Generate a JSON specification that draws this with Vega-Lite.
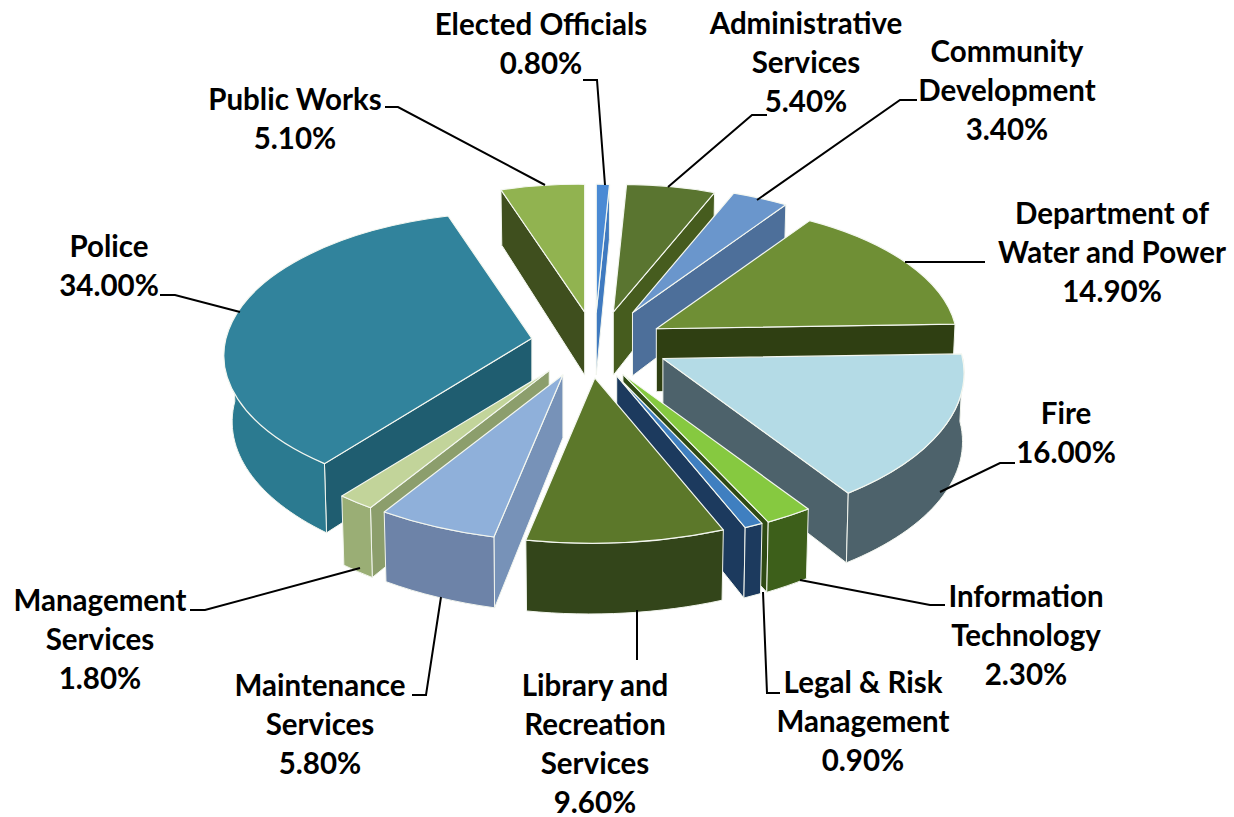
{
  "$schema": "https://vega.github.io/schema/vega-lite/v6.json",
  "autosize": {"type": "none"},
  "width": 1234,
  "height": 817,
  "padding": 0,
  "background": "#ffffff",
  "config": {"view": {"stroke": null}},
  "data": {"values": [
    {"seq": 1, "department": "Elected Officials", "lines": "Elected Officials", "share": 0.8},
    {"seq": 2, "department": "Administrative Services", "lines": "Administrative|Services", "share": 5.4},
    {"seq": 3, "department": "Community Development", "lines": "Community|Development", "share": 3.4},
    {"seq": 4, "department": "Department of Water and Power", "lines": "Department of|Water and Power", "share": 14.9},
    {"seq": 5, "department": "Fire", "lines": "Fire", "share": 16.0},
    {"seq": 6, "department": "Information Technology", "lines": "Information|Technology", "share": 2.3},
    {"seq": 7, "department": "Legal & Risk Management", "lines": "Legal & Risk|Management", "share": 0.9},
    {"seq": 8, "department": "Library and Recreation Services", "lines": "Library and|Recreation|Services", "share": 9.6},
    {"seq": 9, "department": "Maintenance Services", "lines": "Maintenance|Services", "share": 5.8},
    {"seq": 10, "department": "Management Services", "lines": "Management|Services", "share": 1.8},
    {"seq": 11, "department": "Police", "lines": "Police", "share": 34.0},
    {"seq": 12, "department": "Public Works", "lines": "Public Works", "share": 5.1}
  ]},
  "transform": [
    {"window": [{"op": "sum", "field": "share", "as": "cum"}], "sort": [{"field": "seq"}], "frame": [null, 0]},
    {"calculate": "(datum.cum - datum.share) / 100 * 2 * PI", "as": "a"},
    {"calculate": "datum.cum / 100 * 2 * PI", "as": "b"},
    {"calculate": "(datum.a + datum.b) / 2", "as": "m"},
    {"calculate": "597", "as": "pieX"},
    {"calculate": "345", "as": "pieY"},
    {"calculate": "datum.pieX - 5 + 68 * sin(datum.m + 3 * PI / 180) + ({'Elected Officials':-1,'Administrative Services':3,'Community Development':5,'Department of Water and Power':3,'Fire':12,'Police':6}[datum.department] || 0)", "as": "ax"},
    {"calculate": "datum.pieY - 33 * cos(datum.m + 3 * PI / 180) + ({'Administrative Services':-1,'Community Development':-4,'Department of Water and Power':-2,'Fire':-3,'Police':1}[datum.department] || 0)", "as": "ay"},
    {"calculate": "-cos(datum.m + 3 * PI / 180)", "as": "depthOrder"},

    {"calculate": "300 * (1 - 0.12 * cos(datum.a)) * sin(datum.a)", "as": "x1"},
    {"calculate": "-147 * (1 - 0.13 * cos(datum.a)) * cos(datum.a)", "as": "y1"},
    {"calculate": "300 * (1 - 0.12 * cos(datum.b)) * sin(datum.b)", "as": "x2"},
    {"calculate": "-147 * (1 - 0.13 * cos(datum.b)) * cos(datum.b)", "as": "y2"},
    {"calculate": "63 - 8 * cos(datum.a)", "as": "d1"},
    {"calculate": "63 - 8 * cos(datum.b)", "as": "d2"},
    {"calculate": "300 * (1 - 0.12 * cos(datum.m))", "as": "rxTop"},
    {"calculate": "147 * (1 - 0.13 * cos(datum.m))", "as": "ryTop"},

    {"calculate": "'M0,0L' + datum.x1 + ',' + datum.y1 + 'A' + datum.rxTop + ',' + datum.ryTop + ' 0 0 1 ' + datum.x2 + ',' + datum.y2 + 'Z'", "as": "topPath"},
    {"calculate": "(sin(datum.a) < -0.001 ? 'M0,0L' + datum.x1 + ',' + datum.y1 + 'L' + (datum.x1 * 0.99) + ',' + (datum.y1 + datum.d1) + 'L0,63Z' : '') + (sin(datum.b) > 0.001 ? 'M0,0L' + datum.x2 + ',' + datum.y2 + 'L' + (datum.x2 * 0.99) + ',' + (datum.y2 + datum.d2) + 'L0,63Z' : '')", "as": "sidePath"},

    {"calculate": "max(datum.a, PI / 2)", "as": "ra"},
    {"calculate": "min(datum.b, 3 * PI / 2)", "as": "rb"},
    {"calculate": "(datum.ra + datum.rb) / 2", "as": "rm"},
    {"calculate": "300 * (1 - 0.12 * cos(datum.ra)) * sin(datum.ra)", "as": "u1"},
    {"calculate": "-147 * (1 - 0.13 * cos(datum.ra)) * cos(datum.ra)", "as": "v1"},
    {"calculate": "300 * (1 - 0.12 * cos(datum.rb)) * sin(datum.rb)", "as": "u2"},
    {"calculate": "-147 * (1 - 0.13 * cos(datum.rb)) * cos(datum.rb)", "as": "v2"},
    {"calculate": "300 * (1 - 0.12 * cos(datum.rm))", "as": "rxRim"},
    {"calculate": "147 * (1 - 0.13 * cos(datum.rm))", "as": "ryRim"},
    {"calculate": "'M' + datum.u1 + ',' + datum.v1 + 'A' + datum.rxRim + ',' + datum.ryRim + ' 0 0 1 ' + datum.u2 + ',' + datum.v2 + 'L' + (datum.u2 * 0.99) + ',' + (datum.v2 + 63 - 8 * cos(datum.rb)) + 'A' + (datum.rxRim * 0.99) + ',' + datum.ryRim + ' 0 0 0 ' + (datum.u1 * 0.99) + ',' + (datum.v1 + 63 - 8 * cos(datum.ra)) + 'Z'", "as": "rimPath"},

    {"calculate": "{'Elected Officials':-56,'Administrative Services':209,'Community Development':410,'Department of Water and Power':515,'Fire':469,'Information Technology':429,'Legal & Risk Management':266,'Library and Recreation Services':-2,'Maintenance Services':-277,'Management Services':-497,'Police':-488,'Public Works':-302}[datum.department] + datum.pieX", "as": "labelX"},
    {"calculate": "{'Elected Officials':-319,'Administrative Services':-320,'Community Development':-292,'Department of Water and Power':-130,'Fire':70,'Information Technology':253,'Legal & Risk Management':339,'Library and Recreation Services':342,'Maintenance Services':342,'Management Services':257,'Police':-97,'Public Works':-244}[datum.department] + datum.pieY", "as": "labelY"},
    {"calculate": "datum.lines + '|' + format(datum.share / 100, '.2%')", "as": "labelText"},
    {"calculate": "{'Elected Officials':'M-14,-265L0,-265L8,-160','Administrative Services':'M170,-230L155,-230L71,-158','Community Development':'M320,-245L303,-245L160,-145','Department of Water and Power':'M308,-83L388,-83','Fire':'M343,147L403,118L418,118','Information Technology':'M203,235L333,260L348,260','Legal & Risk Management':'M166,247L170,348L183,348','Library and Recreation Services':'M40,265L40,315','Maintenance Services':'M-156,252L-171,350L-185,350','Management Services':'M-237,223L-392,265L-407,265','Police':'M-357,-33L-422,-50L-437,-50','Public Works':'M-52,-160L-199,-238L-212,-238'}[datum.department]", "as": "leaderPath"}
  ],
  "encoding": {
    "x": {"field": "ax", "type": "quantitative", "scale": {"domain": [0, 1234], "nice": false, "zero": false}, "axis": null},
    "y": {"field": "ay", "type": "quantitative", "scale": {"domain": [817, 0], "nice": false, "zero": false}, "axis": null}
  },
  "layer": [
    {
      "transform": [{"filter": "datum.sidePath != ''"}],
      "mark": {"type": "point", "filled": true, "size": 4, "opacity": 1, "stroke": "#f2f5ee", "strokeWidth": 1, "strokeJoin": "round"},
      "encoding": {
        "shape": {"field": "sidePath", "type": "nominal", "scale": null, "legend": null},
        "order": {"field": "depthOrder", "type": "quantitative"},
        "color": {
          "field": "department", "type": "nominal", "legend": null,
          "scale": {
            "domain": ["Elected Officials", "Administrative Services", "Community Development", "Department of Water and Power", "Fire", "Information Technology", "Legal & Risk Management", "Library and Recreation Services", "Maintenance Services", "Management Services", "Police", "Public Works"],
            "range": ["#3f7ac0", "#465c1e", "#4d6f9a", "#2f3f12", "#4d626b", "#2f4a14", "#1c3a5e", "#3a4f1b", "#7792b8", "#8c9e6c", "#1f5d70", "#3f4f1e"]
          }
        }
      }
    },
    {
      "transform": [{"filter": "datum.ra < datum.rb"}],
      "mark": {"type": "point", "filled": true, "size": 4, "opacity": 1, "stroke": "#f2f5ee", "strokeWidth": 1, "strokeJoin": "round"},
      "encoding": {
        "shape": {"field": "rimPath", "type": "nominal", "scale": null, "legend": null},
        "order": {"field": "depthOrder", "type": "quantitative"},
        "color": {
          "field": "department", "type": "nominal", "legend": null,
          "scale": {
            "domain": ["Elected Officials", "Administrative Services", "Community Development", "Department of Water and Power", "Fire", "Information Technology", "Legal & Risk Management", "Library and Recreation Services", "Maintenance Services", "Management Services", "Police", "Public Works"],
            "range": ["#3f7ac0", "#465c1e", "#4d6f9a", "#2f3f12", "#4d626b", "#3d5f1a", "#1c3a5e", "#33451a", "#6d83a8", "#9aae75", "#2b7a90", "#3f4f1e"]
          }
        }
      }
    },
    {
      "mark": {"type": "point", "filled": true, "size": 4, "opacity": 1, "stroke": "#f4f7f0", "strokeWidth": 1.2, "strokeJoin": "round"},
      "encoding": {
        "shape": {"field": "topPath", "type": "nominal", "scale": null, "legend": null},
        "order": {"field": "depthOrder", "type": "quantitative"},
        "color": {
          "field": "department", "type": "nominal", "legend": null,
          "scale": {
            "domain": ["Elected Officials", "Administrative Services", "Community Development", "Department of Water and Power", "Fire", "Information Technology", "Legal & Risk Management", "Library and Recreation Services", "Maintenance Services", "Management Services", "Police", "Public Works"],
            "range": ["#4a8ad4", "#5a7530", "#6a96cc", "#6f8f35", "#b4dbe6", "#86c940", "#3f7fc0", "#5c782a", "#8fb0da", "#c2d49a", "#31839c", "#91b350"]
          }
        }
      }
    },
    {
      "mark": {"type": "point", "filled": false, "size": 4, "opacity": 1, "stroke": "#000000", "strokeWidth": 2},
      "encoding": {
        "x": {"field": "pieX", "type": "quantitative"},
        "y": {"field": "pieY", "type": "quantitative"},
        "shape": {"field": "leaderPath", "type": "nominal", "scale": null, "legend": null}
      }
    },
    {
      "mark": {"type": "text", "font": "Lato", "fontWeight": "bold", "fontSize": 29.5, "lineHeight": 39, "lineBreak": "|", "align": "center", "baseline": "middle", "color": "#000000"},
      "encoding": {
        "x": {"field": "labelX", "type": "quantitative"},
        "y": {"field": "labelY", "type": "quantitative"},
        "text": {"field": "labelText", "type": "nominal"}
      }
    }
  ],
  "resolve": {"scale": {"color": "independent"}}
}
